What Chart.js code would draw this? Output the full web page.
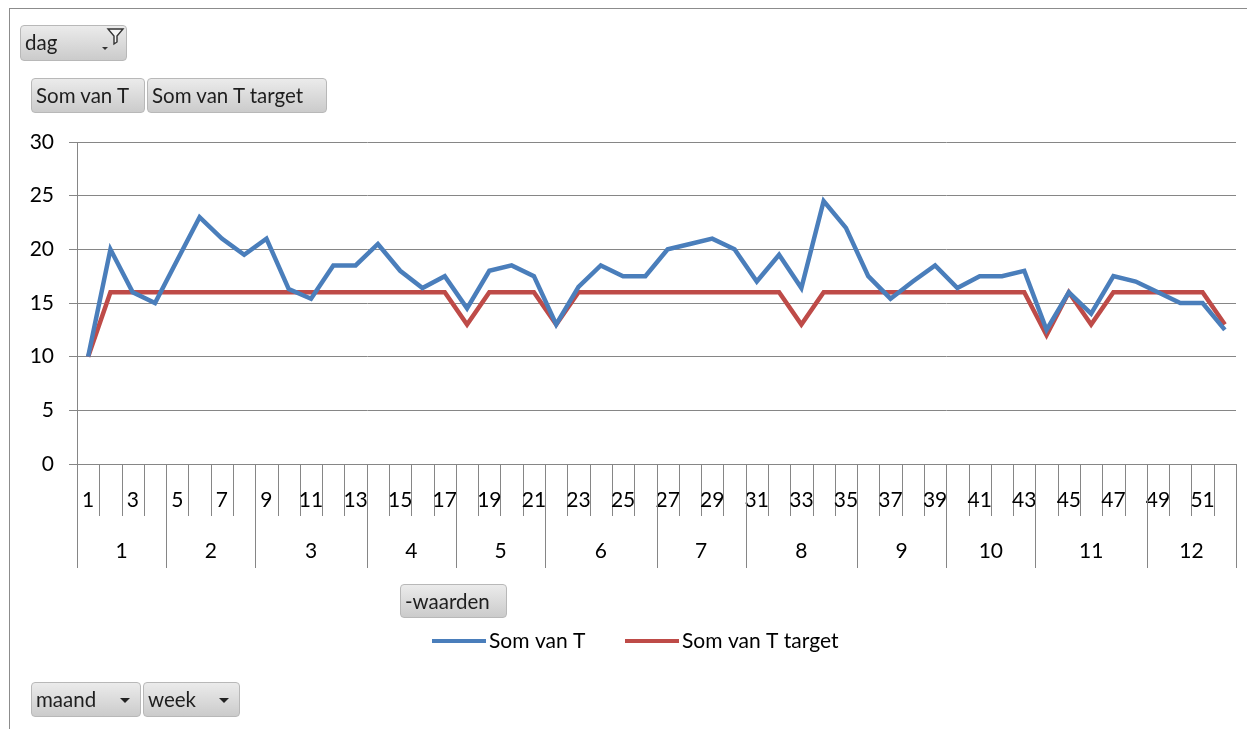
<!DOCTYPE html>
<html>
<head>
<meta charset="utf-8">
<script src="https://cdn.jsdelivr.net/npm/chart.js@4/dist/chart.umd.min.js"></script>
<style>
  html, body { margin: 0; padding: 0; background: #fff; }
  body { width: 1247px; height: 729px; position: relative; overflow: hidden; font-family: Lato, "Liberation Sans", sans-serif; }
  #chart { position: absolute; left: 0; top: 0; }
  .frame-top { position: absolute; left: 9px; top: 8px; width: 1238px; height: 1px; background: #8c8c8c; }
  .frame-left { position: absolute; left: 9px; top: 8px; width: 1px; height: 721px; background: #8c8c8c; }
  .btn {
    position: absolute; box-sizing: border-box;
    background: linear-gradient(#ebebeb, #cbcbcb);
    border: 1px solid #b8b8b8; border-radius: 4px;
    color: #1e1e1e; font-size: 20.5px; line-height: 33px;
    padding-left: 4px; white-space: nowrap;
  }
  .arrow { position: absolute; top: 15px; width: 0; height: 0;
    border-left: 5px solid transparent; border-right: 5px solid transparent; border-top: 5px solid #222; }
</style>
</head>
<body>
<canvas id="chart" width="1247" height="729"></canvas>
<div class="frame-top"></div>
<div class="frame-left"></div>

<div class="btn" style="left:20px;top:25px;width:107px;height:36px;">dag
  <svg style="position:absolute;left:78px;top:1px" width="26" height="26" viewBox="0 0 26 26">
    <path d="M9 2 L24 2 L18 9 L18 15 L15 17 L15 9 Z" fill="#f4f4f4" stroke="#333" stroke-width="1.4"/>
    <path d="M3 20 L9 20 L6 23 Z" fill="#333"/>
  </svg>
</div>
<div class="btn" style="left:31px;top:78px;width:114px;height:35px;">Som van T</div>
<div class="btn" style="left:147px;top:78px;width:180px;height:35px;">Som van T target</div>
<div class="btn" style="left:400px;top:584px;width:107px;height:34px;">-waarden</div>
<div class="btn" style="left:31px;top:682px;width:110px;height:35px;">maand<span class="arrow" style="left:88px"></span></div>
<div class="btn" style="left:143px;top:682px;width:97px;height:35px;">week<span class="arrow" style="left:75px"></span></div>

<script>
// week numbers 1..52, grouped by month
const weeks = ["1","2","3","4","5","6","7","8","9","10","11","12","13","14","15","16","17","18","19","20","21","22","23","24","25","26",
  "27","28","29","30","31","32","33","34","35","36","37","38","39","40","41","42","43","44","45","46","47","48","49","50","51","52"];
const months = ["1","2","3","4","5","6","7","8","9","10","11","12"];
const weeksPerMonth = [4, 4, 5, 4, 4, 5, 4, 5, 4, 4, 5, 4];

const somVanT = [10, 20, 16, 15, 19, 23, 21, 19.5, 21, 16.3, 15.4, 18.5, 18.5, 20.5, 18, 16.4, 17.5, 14.5, 18, 18.5, 17.5, 13,
  16.5, 18.5, 17.5, 17.5, 20, 20.5, 21, 20, 17, 19.5, 16.4, 24.5, 22, 17.5, 15.4, 17, 18.5, 16.4, 17.5, 17.5, 18, 12.5,
  16, 14, 17.5, 17, 16, 15, 15, 12.5];
const somVanTTarget = [10, 16, 16, 16, 16, 16, 16, 16, 16, 16, 16, 16, 16, 16, 16, 16, 16, 13, 16, 16, 16, 13,
  16, 16, 16, 16, 16, 16, 16, 16, 16, 16, 13, 16, 16, 16, 16, 16, 16, 16, 16, 16, 16, 12,
  16, 13, 16, 16, 16, 16, 16, 13];

const yTicks = { min: 0, max: 30, step: 5 };

const gridColor = "#868686";
const fontFamily = "Lato, 'Liberation Sans', sans-serif";

// draws the two-level category axis (week / month) and the legend
const pivotAxis = {
  id: "pivotAxis",
  afterDraw(chart) {
    const ctx = chart.ctx;
    const xs = chart.scales.x;
    const top = chart.chartArea.bottom;
    const weekBottom = top + 52;
    const monthBottom = top + 104;

    ctx.save();
    ctx.strokeStyle = gridColor;
    ctx.lineWidth = 1;
    ctx.fillStyle = "#000";
    ctx.textAlign = "center";
    ctx.textBaseline = "middle";
    ctx.font = "21px " + fontFamily;

    // week boundaries and labels
    for (let i = 0; i <= weeks.length; i++) {
      const x = Math.round(xs.getPixelForValue(i - 0.5)) + 0.5;
      ctx.beginPath();
      ctx.moveTo(x, top);
      ctx.lineTo(x, weekBottom);
      ctx.stroke();
    }
    weeks.forEach((w, i) => {
      if (i % 2 === 0) ctx.fillText(w, xs.getPixelForValue(i), top + 36);
    });

    // month boundaries and labels
    let start = 0;
    months.forEach((m, mi) => {
      const end = start + weeksPerMonth[mi];
      const x0 = xs.getPixelForValue(start - 0.5);
      const x1 = xs.getPixelForValue(end - 0.5);
      [x0, x1].forEach((x) => {
        const px = Math.round(x) + 0.5;
        ctx.beginPath();
        ctx.moveTo(px, top);
        ctx.lineTo(px, monthBottom);
        ctx.stroke();
      });
      ctx.fillText(m, (x0 + x1) / 2, top + 87);
      start = end;
    });

    // legend
    const legendY = 641;
    const items = [
      { ds: chart.data.datasets[0], x: 432 },
      { ds: chart.data.datasets[1], x: 625 },
    ];
    ctx.textAlign = "left";
    ctx.font = "21px " + fontFamily;
    items.forEach((it) => {
      ctx.strokeStyle = it.ds.borderColor;
      ctx.lineWidth = 4;
      ctx.beginPath();
      ctx.moveTo(it.x, legendY);
      ctx.lineTo(it.x + 54, legendY);
      ctx.stroke();
      ctx.fillStyle = "#000";
      ctx.fillText(it.ds.label, it.x + 57, legendY);
    });
    ctx.restore();
  },
};

const ctx = document.getElementById("chart").getContext("2d");
new Chart(ctx, {
  type: "line",
  data: {
    labels: weeks,
    datasets: [
      {
        label: "Som van T",
        data: somVanT,
        borderColor: "#4a7ebb",
        backgroundColor: "#4a7ebb",
        borderWidth: 4.5,
        pointRadius: 0,
        tension: 0,
      },
      {
        label: "Som van T target",
        data: somVanTTarget,
        borderColor: "#be4b48",
        backgroundColor: "#be4b48",
        borderWidth: 4.5,
        pointRadius: 0,
        tension: 0,
      },
    ],
  },
  options: {
    responsive: false,
    animation: false,
    devicePixelRatio: 1,
    layout: {
      padding: { top: 142, left: 0, right: 11, bottom: 160 },
    },
    plugins: {
      legend: { display: false },
      tooltip: { enabled: false },
    },
    scales: {
      x: {
        type: "category",
        offset: true,
        grid: { display: false },
        ticks: { display: false },
        border: { display: true, color: gridColor },
        afterFit: (scale) => {
          scale.height = 105;
        },
      },
      y: {
        min: yTicks.min,
        max: yTicks.max,
        ticks: {
          stepSize: yTicks.step,
          color: "#000",
          padding: 15,
          font: { family: fontFamily, size: 21 },
        },
        grid: {
          color: gridColor,
          tickLength: 8,
        },
        border: { display: true, color: gridColor },
        afterFit: (scale) => {
          scale.width = 77;
        },
      },
    },
  },
  plugins: [pivotAxis],
});
</script>
</body>
</html>
